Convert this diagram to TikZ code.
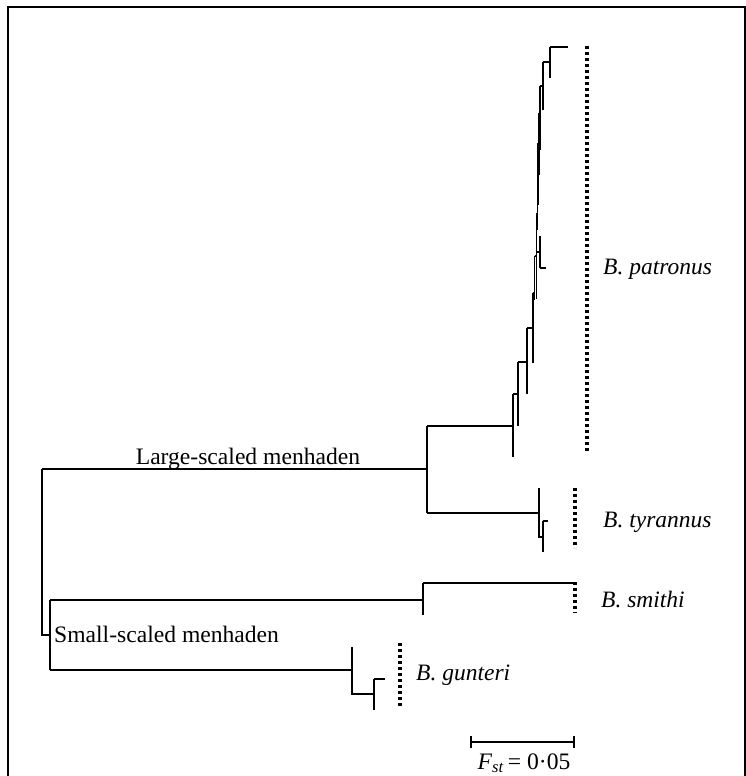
\documentclass[tikz,border=0pt]{standalone}
\usepackage{fontspec}
\setmainfont{Liberation Serif}
\usetikzlibrary{positioning}

\begin{document}
\begin{tikzpicture}[
    x=1pt, y=-1pt,
    branch/.style={line width=1.4pt},
    grpbar/.style={line width=3.2pt, dash pattern=on 3pt off 3pt},
    taxon/.style={anchor=west, inner sep=0pt, font=\fontsize{23.5}{27}\selectfont\itshape},
    grplabel/.style={anchor=base, inner sep=0pt, font=\fontsize{23.6}{27}\selectfont}]
  \useasboundingbox (0,0) rectangle (746,776);
  \draw[line width=2.4pt] (8,776) -- (8,7) -- (745,7) -- (745,776);

  % main split
  \coordinate (root) at (42,469);
  \coordinate (large) at (427,469);
  \coordinate (small) at (50,635);
  \draw[branch] (root) -- (large);
  \draw[branch] (root) -- (42,635) -- (small);
  \node[grplabel] (lsm) at (248,464) {Large-scaled menhaden};
  \node[grplabel, anchor=base west] (ssm) at (54,642) {Small-scaled menhaden};

  % large-scaled: patronus ladder
  \draw[branch] (427,426) -- (427,513);
  \draw[branch] (427,426) -- (513,426);
  \draw[branch] (550,47) -- (550,78);   \draw[branch] (550,47) -- (568,47);
  \draw[branch] (543,62) -- (543,110);  \draw[branch] (543,62) -- (550,62);
  \draw[branch] (540,86) -- (540,150);  \draw[branch] (540,86) -- (543,86);
  \draw[branch] (539,113) -- (539,175); \draw[branch] (539,113) -- (540,113);
  \draw[branch] (538,143) -- (538,205); \draw[branch] (538,143) -- (539,143);
  \draw[branch] (537.5,173) -- (537.5,230); \draw[branch] (537.5,173) -- (538,173);
  \draw[branch] (536.5,213) -- (536.5,299); \draw[branch] (536.5,213) -- (537.5,213);
  \draw[branch] (536.5,252) -- (540,252);
  \draw[branch] (540,236) -- (540,268); \draw[branch] (540,268) -- (546,268);
  \draw[branch] (534.5,256) -- (534.5,300); \draw[branch] (534.5,256) -- (536.5,256);
  \draw[branch] (533,293) -- (533,363); \draw[branch] (533,293) -- (534.5,293);
  \draw[branch] (527,328) -- (527,394); \draw[branch] (527,328) -- (533,328);
  \draw[branch] (518,362) -- (518,426); \draw[branch] (518,362) -- (527,362);
  \draw[branch] (513,394) -- (513,457); \draw[branch] (513,394) -- (518,394);

  % tyrannus
  \draw[branch] (427,513) -- (539,513);
  \draw[branch] (539,488) -- (539,537) -- (543,537);
  \draw[branch] (543,521) -- (543,552);
  \draw[branch] (543,521) -- (548,521);

  % small-scaled
  \draw[branch] (50,600) -- (50,670);
  \draw[branch] (50,600) -- (423,600);
  \draw[branch] (423,583) -- (423,615);
  \draw[branch] (423,583) -- (575,583);
  \draw[branch] (50,670) -- (352,670);
  \draw[branch] (352,647) -- (352,694) -- (374,694);
  \draw[branch] (374,679) -- (374,710);
  \draw[branch] (374,679) -- (385,679);

  % species bars
  \draw[grpbar] (587,46) -- (587,453);
  \draw[grpbar] (575,488) -- (575,548);
  \draw[grpbar] (575,582) -- (575,613);
  \draw[grpbar] (400,643) -- (400,708);
  \node[taxon] (pat) at (603,269) {B. patronus};
  \node[taxon] (tyr) at (603,522) {B. tyrannus};
  \node[taxon] (smi) at (601,600) {B. smithi};
  \node[taxon] (gun) at (416,675) {B. gunteri};

  % scale
  \coordinate (sa) at (471,742);
  \coordinate (sb) at (574,742);
  \draw[branch] (sa) -- (sb);
  \draw[branch] ([yshift=-6pt]sa) -- ([yshift=6pt]sa);
  \draw[branch] ([yshift=-6pt]sb) -- ([yshift=6pt]sb);
  \node[grplabel] (fst) at (524,769) {\textit{F}\textsubscript{\textit{st}}\,= 0·05};
\end{tikzpicture}
\end{document}
